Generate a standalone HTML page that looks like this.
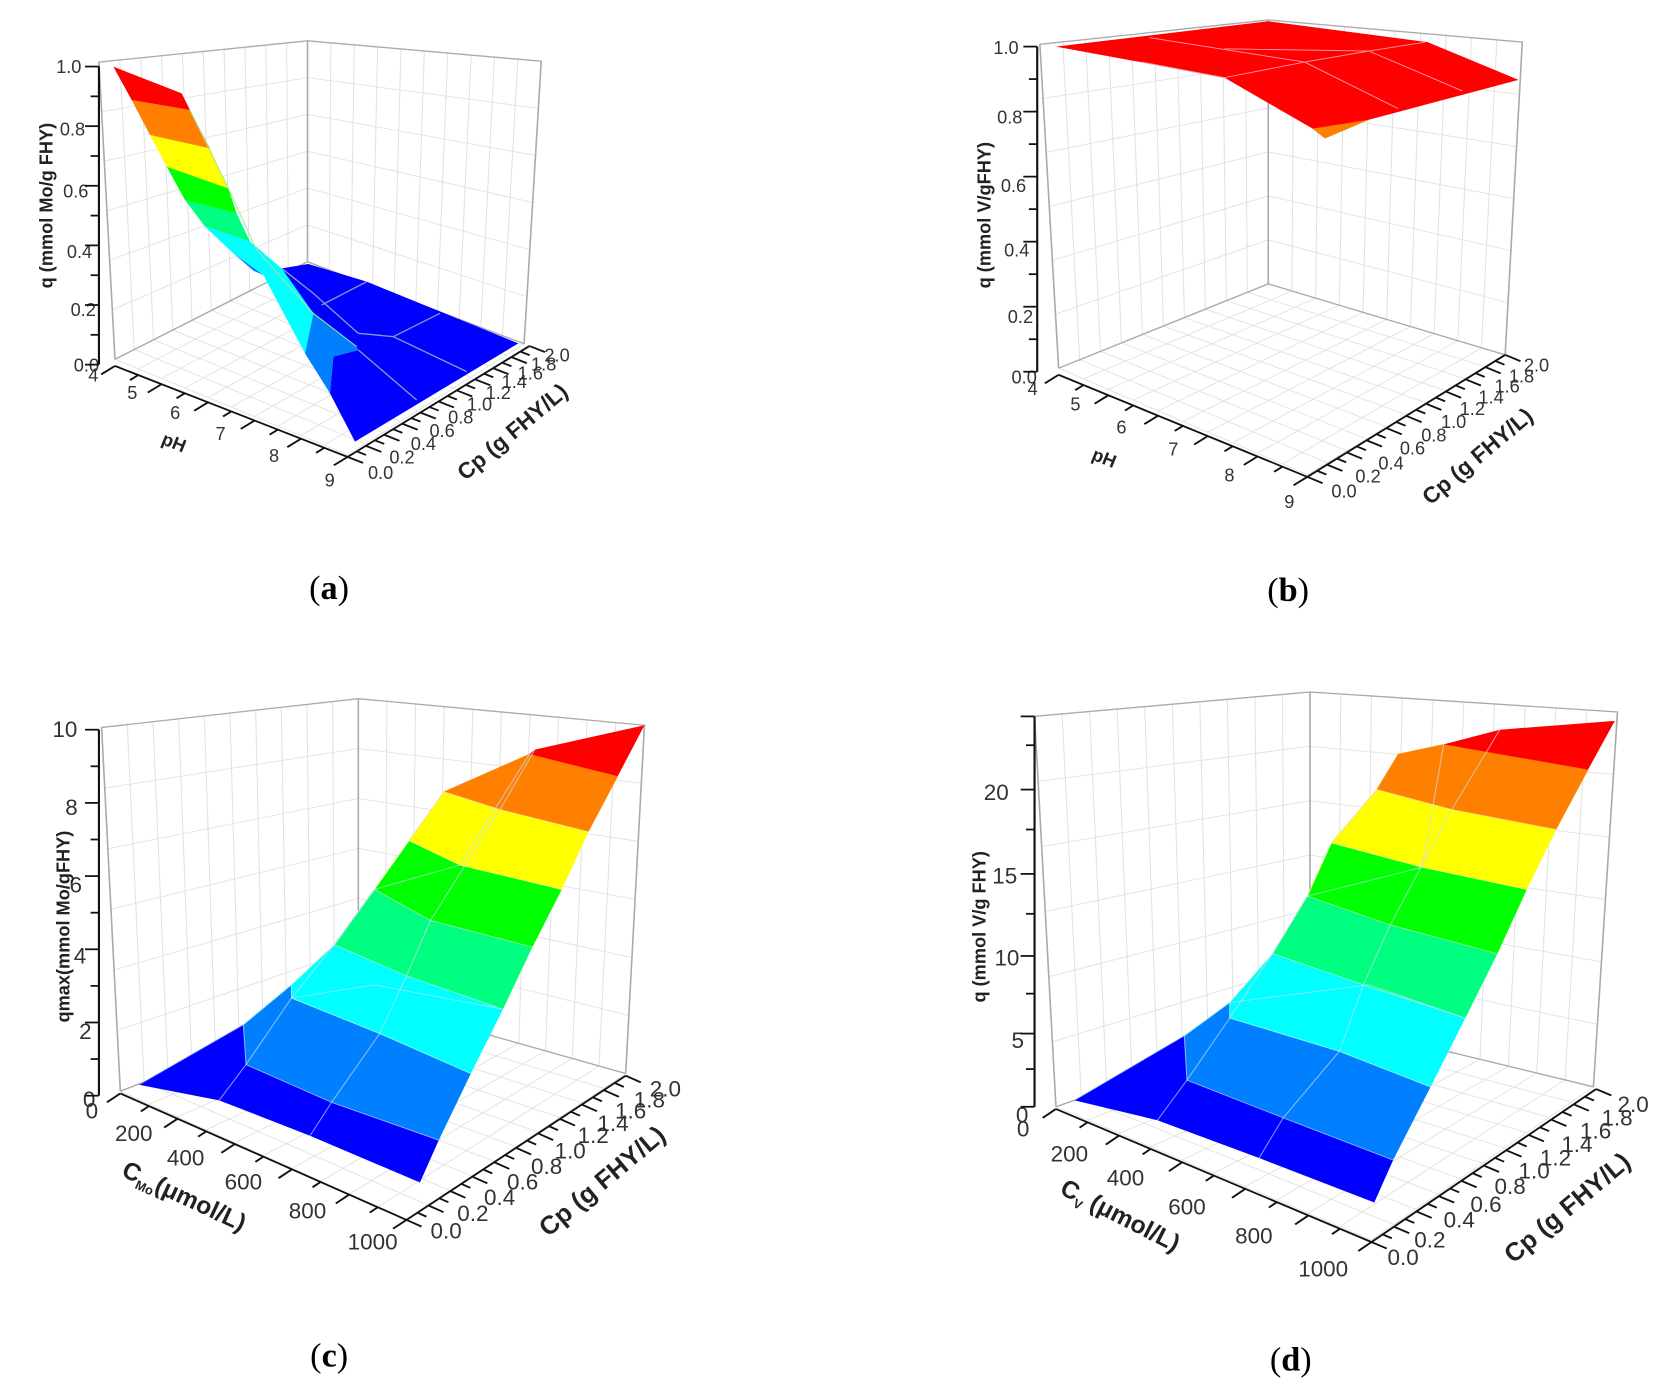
<!DOCTYPE html>
<html><head><meta charset="utf-8"><style>
html,body{margin:0;padding:0;background:#fff;overflow:hidden}
svg{display:block}
text{font-family:"Liberation Sans",Arial,sans-serif;fill:#333}
.t{font-size:34px}
.T{font-size:42px}
.b{font-weight:bold;fill:#222}
.cap{font-family:"Liberation Serif",serif;font-size:64px;fill:#000}
</style></head><body>
<svg id="s" width="1669" height="1384" viewBox="0 0 1669 1384" xmlns="http://www.w3.org/2000/svg">
<g id="pa" transform="translate(0,0) scale(0.5348,0.4436)">
 <g class="grid"></g>
 <g transform="scale(1.86986,2.25428) translate(100,60) scale(0.33333)">
  <polygon fill="#0000ff" points="545,625 625,612 800,665 1255,850 765,1145 690,1000 700,890 775,870 640,760"/>
  <polygon fill="#0080ff" points="640,760 770,860 775,870 700,890 690,1000 615,880"/>
  <polygon fill="#00ffff" points="315,500 450,545 545,625 640,760 615,880 490,645 400,580"/>
  <polygon fill="#0080ff" points="400,580 490,645 460,632"/>
  <polygon fill="#00ff80" points="255,420 410,460 450,545 315,500"/>
  <polygon fill="#00ff00" points="200,320 385,385 410,460 255,420"/>
  <polygon fill="#ffff00" points="150,225 330,265 385,385 200,320"/>
  <polygon fill="#ff8000" points="95,120 270,150 330,265 150,225"/>
  <polygon fill="#ff0000" points="40,20 245,100 270,150 95,120"/>
  <g fill="none" stroke="#8899cc" stroke-width="4">
   <polyline points="665,735 800,665"/><polyline points="880,830 1020,760"/>
   <polyline points="775,870 950,1020"/><polyline points="775,820 880,830 1100,935"/>
   <polyline points="545,625 640,700 775,820"/>
  </g>
  <polyline points="270,150 385,385 470,570 640,760 770,860" fill="none" stroke="#9fe8a0" stroke-width="3"/>
 </g>
 <text class="t" x="105" y="165">1.0</text><text class="t" x="112" y="305">0.8</text>
 <text class="t" x="118" y="445">0.6</text><text class="t" x="125" y="582">0.4</text>
 <text class="t" x="132" y="712">0.2</text><text class="t" x="138" y="838">0.0</text>
 <text class="t" x="165" y="860">4</text><text class="t" x="238" y="900">5</text><text class="t" x="318" y="945">6</text>
 <text class="t" x="403" y="992">7</text><text class="t" x="503" y="1042">8</text><text class="t" x="607" y="1097">9</text>
 <text class="t b" x="300" y="1000" transform="rotate(22 300 1000)">pH</text>
 <g class="t"><text x="688" y="1080">0.0</text><text x="728" y="1045">0.2</text><text x="768" y="1015">0.4</text><text x="803" y="985">0.6</text><text x="838" y="955">0.8</text><text x="873" y="925">1.0</text><text x="908" y="900">1.2</text><text x="938" y="875">1.4</text><text x="968" y="855">1.6</text><text x="993" y="835">1.8</text><text x="1018" y="815">2.0</text></g>
 <text class="T b" x="870" y="1085" transform="rotate(-40 870 1085)">Cp (g FHY/L)</text>
 <text class="t b" x="0" y="0" transform="translate(98,650) rotate(-90)">q (mmol Mo/g FHY)</text>
 <text class="cap" x="578" y="1350">(<tspan font-weight="bold">a</tspan>)</text>
</g>
<g id="pb" transform="translate(834,0) scale(0.5348,0.4436)">
 <g class="grid"></g>
 <polygon fill="#ff0000" points="415,105 812,48 1110,95 1280,180 1000,270 918,312 895,290 730,175"/>
 <polygon fill="#ff8000" points="895,290 1000,270 918,312"/>
 <polyline fill="none" stroke="#f9a" stroke-width="2" points="575,140 730,175"/>
 <polyline fill="none" stroke="#f9a" stroke-width="2" points="590,85 880,140 1055,245"/>
 <polyline fill="none" stroke="#f9a" stroke-width="2" points="730,110 1000,115 1175,205"/>
 <polyline fill="none" stroke="#f9a" stroke-width="2" points="730,175 880,140 1000,115 1105,95"/>
 <text class="t" x="298" y="122">1.0</text><text class="t" x="305" y="278">0.8</text>
 <text class="t" x="312" y="433">0.6</text><text class="t" x="318" y="578">0.4</text>
 <text class="t" x="325" y="728">0.2</text><text class="t" x="332" y="865">0.0</text>
 <text class="t" x="362" y="890">4</text><text class="t" x="442" y="925">5</text><text class="t" x="528" y="977">6</text>
 <text class="t" x="625" y="1027">7</text><text class="t" x="730" y="1085">8</text><text class="t" x="842" y="1145">9</text>
 <text class="t b" x="480" y="1035" transform="rotate(22 480 1035)">pH</text>
 <g class="t"><text x="930" y="1122">0.0</text><text x="975" y="1088">0.2</text><text x="1018" y="1058">0.4</text><text x="1058" y="1025">0.6</text><text x="1098" y="995">0.8</text><text x="1135" y="965">1.0</text><text x="1170" y="935">1.2</text><text x="1205" y="910">1.4</text><text x="1235" y="885">1.6</text><text x="1262" y="862">1.8</text><text x="1290" y="838">2.0</text></g>
 <text class="T b" x="1115" y="1140" transform="rotate(-40 1115 1140)">Cp (g FHY/L)</text>
 <text class="t b" x="0" y="0" transform="translate(293,650) rotate(-90)">q (mmol V/gFHY)</text>
 <text class="cap" x="810" y="1355">(<tspan font-weight="bold">b</tspan>)</text>
</g>
<g id="pc" transform="translate(0,692) scale(0.5348,0.4436)">
 <g class="grid"></g>
 <g class="surf" data-k="c"></g>
 <text class="T" x="98" y="102">10</text><text class="T" x="122" y="277">8</text><text class="T" x="130" y="452">6</text>
 <text class="T" x="138" y="612">4</text><text class="T" x="148" y="782">2</text><text class="T" x="155" y="935">0</text>
 <text class="T" x="160" y="962">0</text><text class="T" x="215" y="1012">200</text><text class="T" x="312" y="1067">400</text>
 <text class="T" x="420" y="1122">600</text><text class="T" x="540" y="1187">800</text><text class="T" x="650" y="1257">1000</text>
 <text class="b" font-size="46" x="225" y="1090" transform="rotate(25 225 1090)">C<tspan font-size="24" dy="10">Mo</tspan><tspan dy="-10">(μmol/L)</tspan></text>
 <g class="T"><text x="805" y="1232">0.0</text><text x="855" y="1192">0.2</text><text x="905" y="1157">0.4</text><text x="948" y="1122">0.6</text><text x="993" y="1087">0.8</text><text x="1037" y="1052">1.0</text><text x="1080" y="1017">1.2</text><text x="1117" y="990">1.4</text><text x="1150" y="962">1.6</text><text x="1185" y="937">1.8</text><text x="1215" y="912">2.0</text></g>
 <text class="b" font-size="48" x="1025" y="1230" transform="rotate(-40 1025 1230)">Cp (g FHY/L)</text>
 <text class="t b" x="0" y="0" font-size="38" transform="translate(130,745) rotate(-90)">qmax(mmol Mo/gFHY)</text>
 <text class="cap" x="580" y="1520">(<tspan font-weight="bold">c</tspan>)</text>
</g>
<g id="pd" transform="translate(834,692) scale(0.5348,0.4436)">
 <g class="grid"></g>
 <g class="surf" data-k="d"></g>
 <text class="T" x="280" y="243">20</text><text class="T" x="296" y="432">15</text><text class="T" x="300" y="617">10</text>
 <text class="T" x="332" y="802">5</text><text class="T" x="340" y="970">0</text><text class="T" x="342" y="1002">0</text>
 <text class="T" x="405" y="1058">200</text><text class="T" x="510" y="1113">400</text><text class="T" x="625" y="1178">600</text>
 <text class="T" x="750" y="1243">800</text><text class="T" x="868" y="1318">1000</text>
 <text class="b" font-size="46" x="420" y="1130" transform="rotate(27 420 1130)">C<tspan font-size="24" dy="10">V</tspan><tspan dy="-10"> (μmol/L)</tspan></text>
 <g class="T"><text x="1035" y="1292">0.0</text><text x="1085" y="1252">0.2</text><text x="1140" y="1207">0.4</text><text x="1190" y="1172">0.6</text><text x="1235" y="1132">0.8</text><text x="1280" y="1097">1.0</text><text x="1320" y="1067">1.2</text><text x="1360" y="1037">1.4</text><text x="1395" y="1007">1.6</text><text x="1435" y="977">1.8</text><text x="1465" y="947">2.0</text></g>
 <text class="b" font-size="48" x="1270" y="1290" transform="rotate(-40 1270 1290)">Cp (g FHY/L)</text>
 <text class="t b" x="0" y="0" font-size="38" transform="translate(283,700) rotate(-90)">q (mmol V/g FHY)</text>
 <text class="cap" x="815" y="1530">(<tspan font-weight="bold">d</tspan>)</text>
</g>
</svg>
<script>
var NS="http://www.w3.org/2000/svg";
function el(p,tag,a){var e=document.createElementNS(NS,tag);for(var k in a)e.setAttribute(k,a[k]);p.appendChild(e);return e;}
function L(a,b,t){return[a[0]+(b[0]-a[0])*t,a[1]+(b[1]-a[1])*t];}
function quad(g,q,nu,nv){
 for(var i=0;i<=nu;i++){var a=L(q[0],q[1],i/nu),b=L(q[3],q[2],i/nu);el(g,'line',{x1:a[0],y1:a[1],x2:b[0],y2:b[1],stroke:'#e2e2e2','stroke-width':2});}
 for(var j=0;j<=nv;j++){var a=L(q[0],q[3],j/nv),b=L(q[1],q[2],j/nv);el(g,'line',{x1:a[0],y1:a[1],x2:b[0],y2:b[1],stroke:'#e2e2e2','stroke-width':2});}
}
function edges(g,pts){el(g,'polyline',{points:pts.map(function(p){return p.join(',')}).join(' '),fill:'none',stroke:'#aaa','stroke-width':3});}
function axis(g,a,b,n,dir,len,minorEvery){
 el(g,'line',{x1:a[0],y1:a[1],x2:b[0],y2:b[1],stroke:'#111','stroke-width':4});
 for(var i=0;i<=n;i++){var p=L(a,b,i/n);var l=(minorEvery&&i%minorEvery)?len*0.6:len;
 el(g,'line',{x1:p[0],y1:p[1],x2:p[0]+dir[0]*l,y2:p[1]+dir[1]*l,stroke:'#111','stroke-width':4});}
}
function norm(v){var m=Math.hypot(v[0],v[1]);return[v[0]/m,v[1]/m];}
var P={
 pa:{left:[[185,140],[575,92],[575,590],[215,810]],right:[[575,92],[1012,138],[980,775],[575,590]],floor:[[215,810],[575,590],[980,775],[650,1025]],
  y:[[185,150],[185,822],10],x1:[[215,825],[650,1030],10],x2:[[650,1030],[990,780],20]},
 pb:{left:[[385,100],[812,45],[812,640],[420,830]],right:[[812,45],[1287,95],[1255,800],[812,640]],floor:[[420,830],[812,640],[1255,800],[885,1070]],
  y:[[380,105],[380,838],10],x1:[[420,845],[885,1075],10],x2:[[885,1075],[1255,800],20]},
 pc:{left:[[190,80],[670,15],[670,690],[225,900]],right:[[670,15],[1205,75],[1170,860],[670,690]],floor:[[225,900],[670,690],[1170,860],[760,1190]],
  y:[[185,85],[185,910],10],x1:[[225,905],[760,1190],10],x2:[[760,1190],[1170,865],20]},
 pd:{left:[[375,55],[890,0],[890,735],[415,935]],right:[[890,0],[1465,45],[1420,890],[890,735]],floor:[[415,935],[890,735],[1420,890],[1005,1235]],
  y:[[375,55],[375,935],0],x1:[[415,940],[1005,1240],10],x2:[[1005,1240],[1425,895],20]}
};
for(var id in P){var d=P[id];var g=document.querySelector('#'+id+' .grid');
 quad(g,d.left,10,6);quad(g,d.right,10,6);quad(g,d.floor,10,10);
 edges(g,[d.left[3],d.left[0],d.left[1],d.right[1],d.right[2]]);edges(g,[d.left[1],d.left[2]]);
 edges(g,[d.floor[0],d.floor[1],d.floor[2]]);
}
var C=['#0000ff','#0080ff','#00ffff','#00ff80','#00ff00','#ffff00','#ff8000','#ff0000'];
var S={c:[[[260,885],[410,920],[580,1000],[785,1105]],[[260,885],[455,750],[460,840],[620,925],[820,1010]],[[455,750],[545,660],[545,690],[710,770],[880,860]],[[545,660],[625,570],[760,640],[940,715]],[[625,570],[700,445],[805,515],[995,575]],[[700,445],[765,335],[860,390],[1050,445]],[[765,335],[830,225],[935,265],[1100,315]],[[830,225],[990,140],[1155,190]]],
 cr:[[990,140],[1000,130],[1205,75],[1155,190]],
 d:[[[450,920],[605,965],[795,1050],[1010,1150]],[[450,920],[655,775],[660,875],[840,960],[1045,1055]],[[655,775],[740,700],[740,735],[945,810],[1115,890]],[[740,700],[820,590],[990,660],[1180,735]],[[820,590],[885,460],[1040,525],[1240,590]],[[885,460],[930,340],[1100,395],[1295,445]],[[930,340],[1015,220],[1155,265],[1350,310]],[[1015,220],[1055,140],[1140,118],[1410,175]]],
 dr:[[1140,118],[1245,85],[1460,65],[1410,175]]};
['c','d'].forEach(function(k){var g=document.querySelector('.surf[data-k="'+k+'"]');var B=S[k];
 for(var i=0;i<7;i++){var pts=B[i].concat(B[i+1].slice().reverse());el(g,'polygon',{points:pts.map(function(p){return p.join(',')}).join(' '),fill:C[i],stroke:C[i],'stroke-width':1});}
 el(g,'polygon',{points:S[k+'r'].map(function(p){return p.join(',')}).join(' '),fill:C[7]});
 for(var i=1;i<7;i++){el(g,'polyline',{points:B[i].map(function(p){return p.join(',')}).join(' '),fill:'none',stroke:'rgba(255,255,255,0.5)','stroke-width':2});}
});
function ml(k,pts){var g=document.querySelector('.surf[data-k="'+k+'"]');el(g,'polyline',{points:pts,fill:'none',stroke:'rgba(200,220,255,0.7)','stroke-width':2});}
ml('c','410,920 460,840 545,690 625,570 700,445 860,390 990,140');ml('c','580,1000 620,925 710,770 760,640 805,515 935,265 1000,130');ml('c','545,690 700,660 940,715');
ml('d','605,965 660,875 740,735 820,590 885,460 1100,395 1140,118');ml('d','795,1050 840,960 945,810 990,660 1040,525 1155,265 1245,85');ml('d','740,700 1000,660 1180,735');
for(var id in P){var d=P[id];var g=document.getElementById(id);var ax=el(g,'g',{});
 var y=d.y;axis(ax,y[0],y[1],id=='pd'?0:y[2],[-1,0],26,id=='pd'?0:2);
 if(id=='pd'){[55,120,220,310,410,500,595,680,770,850,935].forEach(function(v,i){el(ax,'line',{x1:375,y1:v,x2:375-(i%2?16:26),y2:v,stroke:'#111','stroke-width':4});});}
 var u1=norm([d.x2[1][0]-d.x2[0][0],d.x2[1][1]-d.x2[0][1]]),u2=norm([d.x1[1][0]-d.x1[0][0],d.x1[1][1]-d.x1[0][1]]);
 axis(ax,d.x1[0],d.x1[1],d.x1[2],[-u1[0],-u1[1]],32,2);
 axis(ax,d.x2[0],d.x2[1],d.x2[2],u2,32,2);
}
var K=0.5348/0.4436;
document.querySelectorAll('svg text').forEach(function(t){
 var tr=t.getAttribute('transform')||'';var ax=+t.getAttribute('x')||0,ay=+t.getAttribute('y')||0;
 var m=tr.match(/translate\(([-\d.]+)[ ,]+([-\d.]+)\)/);if(m){ax=+m[1];ay=+m[2];}
 t.setAttribute('transform','translate('+ax+','+ay+') scale(1,'+K+') translate('+(-ax)+','+(-ay)+') '+tr);
});
</script>
</body></html>
